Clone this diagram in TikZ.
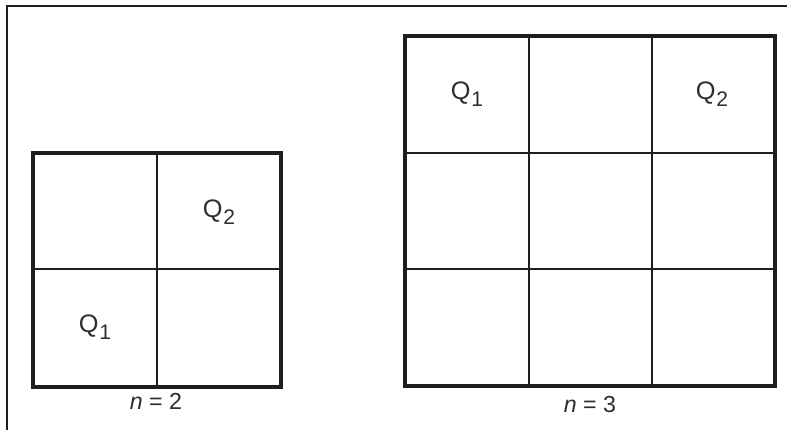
\documentclass[tikz,border=0pt]{standalone}
\usepackage{fontspec}
\setmainfont{Liberation Sans}
\usetikzlibrary{positioning}
\definecolor{gridInk}{HTML}{1e1e1e}
\definecolor{textInk}{HTML}{2e2e2e}
\tikzset{
  outerline/.style={draw=gridInk, line width=2.8pt},
  innerline/.style={draw=gridInk, line width=1.2pt},
  frameline/.style={draw=gridInk, line width=1.4pt},
  qlbl/.style={text=textInk, inner sep=0pt, font=\fontsize{18}{20}\selectfont},
  nlbl/.style={text=textInk, inner sep=0pt, font=\fontsize{16.5}{18}\selectfont},
}
\newcommand{\qsub}[1]{Q\kern0.5pt\raisebox{-5pt}{\fontsize{15}{15}\selectfont #1}}

\begin{document}
\begin{tikzpicture}[x=0.025cm, y=-0.025cm]
  \useasboundingbox (0,0) rectangle (787,430);
  % page frame
  \draw[frameline] (7,430) -- (7,6) -- (787,6);

  % n = 2
  \coordinate (a0) at (33,153);
  \coordinate (a1) at (281,387);
  \draw[innerline] (157,153) -- (157,387);
  \draw[innerline] (33,269) -- (281,269);
  \draw[outerline] (a0) rectangle (a1);
  \node[qlbl] (aq2) at (219,212) {\qsub{2}};
  \node[qlbl] (aq1) at (95,327) {\qsub{1}};
  \node[nlbl] (an) at (156,401) {\textit{n} = 2};

  % n = 3
  \coordinate (b0) at (405,36);
  \coordinate (b1) at (775,386);
  \foreach \x in {529,652}
    \draw[innerline] (\x,36) -- (\x,386);
  \foreach \y in {153,269}
    \draw[innerline] (405,\y) -- (775,\y);
  \draw[outerline] (b0) rectangle (b1);
  \node[qlbl] (bq1) at (467,94) {\qsub{1}};
  \node[qlbl] (bq2) at (712,94) {\qsub{2}};
  \node[nlbl] (bn) at (590,404) {\textit{n} = 3};
\end{tikzpicture}
\end{document}
